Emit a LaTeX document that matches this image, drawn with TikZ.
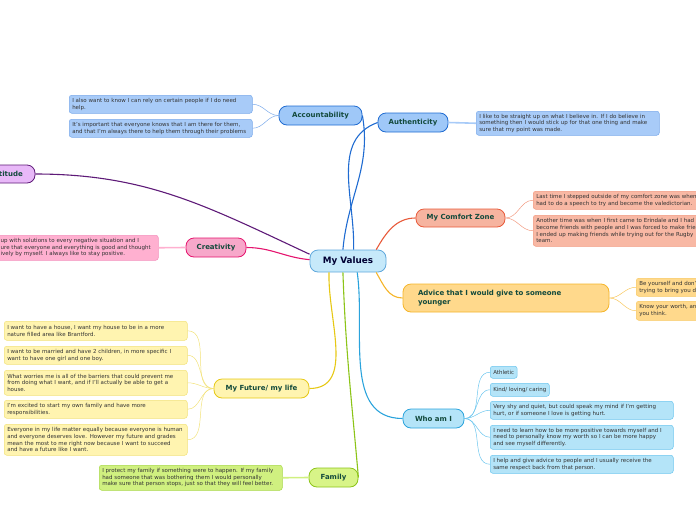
\documentclass[tikz,border=0pt]{standalone}
\usepackage{fontspec}
\setmainfont{DejaVu Sans}
\usetikzlibrary{positioning,calc}
\definecolor{TopicText}{HTML}{134A3C}
\definecolor{NoteText}{HTML}{333333}
\definecolor{MvFill}{HTML}{C6E9FA}
\definecolor{MvDraw}{HTML}{5FA8DC}
\definecolor{AccFill}{HTML}{9FC8F8}
\definecolor{AccDraw}{HTML}{1F6BD1}
\definecolor{AccNote}{HTML}{A8CBF8}
\definecolor{AccNoteDraw}{HTML}{7BAAEA}
\definecolor{AttFill}{HTML}{E8B8F8}
\definecolor{AttDraw}{HTML}{5E1A78}
\definecolor{CreFill}{HTML}{F7A8CA}
\definecolor{CreDraw}{HTML}{E5146E}
\definecolor{CreNote}{HTML}{FFB0D0}
\definecolor{CreNoteDraw}{HTML}{F490BC}
\definecolor{CzFill}{HTML}{F6B4A0}
\definecolor{CzDraw}{HTML}{E85A3A}
\definecolor{CzNote}{HTML}{F8B8A4}
\definecolor{CzNoteDraw}{HTML}{F29A80}
\definecolor{AdvFill}{HTML}{FFD98C}
\definecolor{AdvDraw}{HTML}{F5B52A}
\definecolor{AdvNoteDraw}{HTML}{F8C860}
\definecolor{WhoFill}{HTML}{B4E4F8}
\definecolor{WhoDraw}{HTML}{2AA3DC}
\definecolor{WhoNoteDraw}{HTML}{6CC6EE}
\definecolor{FutFill}{HTML}{FFF4B0}
\definecolor{FutDraw}{HTML}{E6C814}
\definecolor{FutNoteDraw}{HTML}{F2E27A}
\definecolor{FamFill}{HTML}{D8F488}
\definecolor{FamDraw}{HTML}{8CC418}
\definecolor{FamNote}{HTML}{D0F080}
\definecolor{FamNoteDraw}{HTML}{A8D848}

\begin{document}
\begin{tikzpicture}[x=1pt,y=1pt,
  topic/.style={draw,line width=0.8pt,rounded corners=8pt,font=\fontsize{7}{8.4}\selectfont\bfseries,text=TopicText,inner sep=2pt},
  note/.style={draw,line width=0.5pt,rounded corners=2.5pt,font=\fontsize{5.5}{6.7}\selectfont,text=NoteText,align=left,anchor=north west,inner xsep=3pt,inner ysep=1.5pt},
  wide/.style={text width=177pt},
  branch/.style={line width=1.1pt},
  twig/.style={line width=0.5pt},
  stem/.style={line width=1.6pt}]
  \useasboundingbox (0,0) rectangle (696,-520);
  \clip (0,0) rectangle (696,-520);

  % centre et branches
  \node[topic,fill=MvFill,draw=MvDraw,minimum width=76pt,minimum height=22pt,font=\fontsize{8.8}{10}\selectfont\bfseries,text=black!80!blue] (mv) at (348,-261) {My Values};
  \node[topic,fill=AccFill,draw=AccDraw,minimum width=83pt,minimum height=19pt] (acc) at (320.5,-115.5) {Accountability};
  \node[topic,fill=AccFill,draw=AccDraw,minimum width=70pt,minimum height=19pt] (auth) at (413,-122.5) {Authenticity};
  \node[topic,fill=AttFill,draw=AttDraw,minimum width=57pt,minimum height=18pt] (att) at (6.5,-174) {Attitude};
  \node[topic,fill=CreFill,draw=CreDraw,minimum width=60pt,minimum height=19pt] (cre) at (216,-247.5) {Creativity};
  \node[topic,fill=CzFill,draw=CzDraw,minimum width=89pt,minimum height=18pt] (cz) at (460.5,-218) {My Comfort Zone};
  \node[topic,fill=AdvFill,draw=AdvDraw,minimum width=206pt,minimum height=28pt,text width=176pt,align=left,inner xsep=15pt] (adv) at (506,-298) {Advice that I would give to someone\\younger};
  \node[topic,fill=WhoFill,draw=WhoDraw,minimum width=61pt,minimum height=19pt] (who) at (433.5,-418.5) {Who am I};
  \node[topic,fill=FutFill,draw=FutDraw,minimum width=95pt,minimum height=19pt] (fut) at (261.5,-388.5) {My Future/ my life};
  \node[topic,fill=FamFill,draw=FamDraw,minimum width=49pt,minimum height=19pt] (fam) at (333.5,-477.5) {Family};

  \draw[branch,AccDraw] (mv.114) to[out=85,in=-80] (acc.east);
  \draw[branch,AccDraw] (mv.64) to[out=88,in=200] (auth.west);
  \draw[branch,AttDraw] (mv.170) to[out=155,in=0] (att.east);
  \draw[branch,CreDraw] (mv.178) to[out=175,in=0] (cre.east);
  \draw[branch,CzDraw] (mv.22) to[out=60,in=180] (cz.west);
  \draw[branch,AdvDraw] (mv.338) to[out=-60,in=180] (adv.west);
  \draw[branch,WhoDraw] (mv.309) to[out=-82,in=180] (who.west);
  \draw[branch,FutDraw] (mv.211) to[out=-92,in=0] (fut.east);
  \draw[branch,FamDraw] (mv.246) to[out=-88,in=95] (fam.east);

  % notes
  \node[note,wide,fill=AccNote,draw=AccNoteDraw,minimum height=18pt] (acc1) at (69,-95) {I also want to know I can rely on certain people if I do need\\help.};
  \node[note,wide,fill=AccNote,draw=AccNoteDraw,minimum height=18pt] (acc2) at (69,-119) {It's important that everyone knows that I am there for them,\\and that I'm always there to help them through their problems};
  \node[note,wide,fill=AccNote,draw=AccNoteDraw,minimum height=24pt] (auth1) at (476,-111) {I like to be straight up on what I believe in. If I do believe in\\something then I would stick up for that one thing and make\\sure that my point was made.};
  \node[note,fill=CreNote,draw=CreNoteDraw,minimum width=198pt,minimum height=25pt] (crbox) at (-40,-235) {};
  \node[font=\fontsize{5.5}{6.7}\selectfont,text=NoteText,align=left,anchor=west,inner sep=0pt] (crtext) at (0.5,-247.5) {up with solutions to every negative situation and I\\ure that everyone and everything is good and thought\\ively by myself. I always like to stay positive.};
  \node[note,fill=CzNote,draw=CzNoteDraw,text width=200pt,minimum height=18pt] (cz1) at (533,-191) {Last time I stepped outside of my comfort zone was when I\\had to do a speech to try and become the valedictorian.};
  \node[note,fill=CzNote,draw=CzNoteDraw,text width=200pt,minimum height=31pt] (cz2) at (533,-215) {Another time was when I first came to Erindale and I had to\\become friends with people and I was forced to make friends.\\I ended up making friends while trying out for the Rugby\\team.};
  \node[note,fill=AdvFill,draw=AdvNoteDraw,text width=200pt,minimum height=18pt] (adv1) at (636,-278) {Be yourself and don't let anyone\\trying to bring you down.};
  \node[note,fill=AdvFill,draw=AdvNoteDraw,text width=200pt,minimum height=19pt] (adv2) at (636,-301) {Know your worth, and know that\\you think.};
  \node[note,fill=WhoFill,draw=WhoNoteDraw,minimum height=12pt] (who1) at (490,-366) {Athletic};
  \node[note,fill=WhoFill,draw=WhoNoteDraw,minimum height=13pt] (who2) at (490,-383) {Kind/ loving/ caring};
  \node[note,wide,fill=WhoFill,draw=WhoNoteDraw,minimum height=18pt] (who3) at (490,-401) {Very shy and quiet, but could speak my mind if I'm getting\\hurt, or if someone I love is getting hurt.};
  \node[note,wide,fill=WhoFill,draw=WhoNoteDraw,minimum height=24pt] (who4) at (490,-425) {I need to learn how to be more positive towards myself and I\\need to personally know my worth so I can be more happy\\and see myself differently.};
  \node[note,wide,fill=WhoFill,draw=WhoNoteDraw,minimum height=18pt] (who5) at (490,-455) {I help and give advice to people and I usually receive the\\same respect back from that person.};
  \node[note,wide,fill=FutFill,draw=FutNoteDraw,minimum height=19pt] (fut1) at (4,-321) {I want to have a house, I want my house to be in a more\\nature filled area like Brantford.};
  \node[note,wide,fill=FutFill,draw=FutNoteDraw,minimum height=18pt] (fut2) at (4,-346) {I want to be married and have 2 children, in more specific I\\want to have one girl and one boy.};
  \node[note,wide,fill=FutFill,draw=FutNoteDraw,minimum height=25pt] (fut3) at (4,-370) {What worries me is all of the barriers that could prevent me\\from doing what I want, and if I'll actually be able to get a\\house.};
  \node[note,wide,fill=FutFill,draw=FutNoteDraw,minimum height=18pt] (fut4) at (4,-400) {I'm excited to start my own family and have more\\responsibilities.};
  \node[note,wide,fill=FutFill,draw=FutNoteDraw,minimum height=31pt] (fut5) at (4,-424) {Everyone in my life matter equally because everyone is human\\and everyone deserves love. However my future and grades\\mean the most to me right now because I want to succeed\\and have a future like I want.};
  \node[note,wide,fill=FamNote,draw=FamNoteDraw,minimum height=25pt] (fam1) at (99,-465) {I protect my family if something were to happen. If my family\\had someone that was bothering them I would personally\\make sure that person stops, just so that they will feel better.};

  % liens vers les notes
  \draw[twig,AccNoteDraw] (acc.west) to[out=180,in=0] (acc1.east);
  \draw[twig,AccNoteDraw] (acc.west) to[out=180,in=0] (acc2.east);
  \draw[stem,AccNote] (auth.east) -- (auth1.west);
  \draw[stem,CreNote] (cre.west) -- (crbox.east);
  \draw[twig,CzNoteDraw] (cz.east) to[out=0,in=180] (cz1.west);
  \draw[twig,CzNoteDraw] (cz.east) to[out=0,in=180] (cz2.west);
  \draw[twig,AdvNoteDraw] (adv.east) to[out=0,in=180] (adv1.west);
  \draw[twig,AdvNoteDraw] (adv.east) to[out=0,in=180] (adv2.west);
  \draw[twig,WhoNoteDraw] (who.east) to[out=0,in=180] (who1.west);
  \draw[twig,WhoNoteDraw] (who.east) to[out=0,in=180] (who2.west);
  \draw[twig,WhoNoteDraw] (who.east) to[out=0,in=180] (who3.west);
  \draw[twig,WhoNoteDraw] (who.east) to[out=0,in=180] (who4.west);
  \draw[twig,WhoNoteDraw] (who.east) to[out=0,in=180] (who5.west);
  \draw[twig,FutNoteDraw] (fut.west) to[out=180,in=0] (fut1.east);
  \draw[twig,FutNoteDraw] (fut.west) to[out=180,in=0] (fut2.east);
  \draw[twig,FutNoteDraw] (fut.west) to[out=180,in=0] (fut3.east);
  \draw[twig,FutNoteDraw] (fut.west) to[out=180,in=0] (fut4.east);
  \draw[twig,FutNoteDraw] (fut.west) to[out=180,in=0] (fut5.east);
  \draw[stem,FamNote] (fam.west) -- (fam1.east);
\end{tikzpicture}
\end{document}
